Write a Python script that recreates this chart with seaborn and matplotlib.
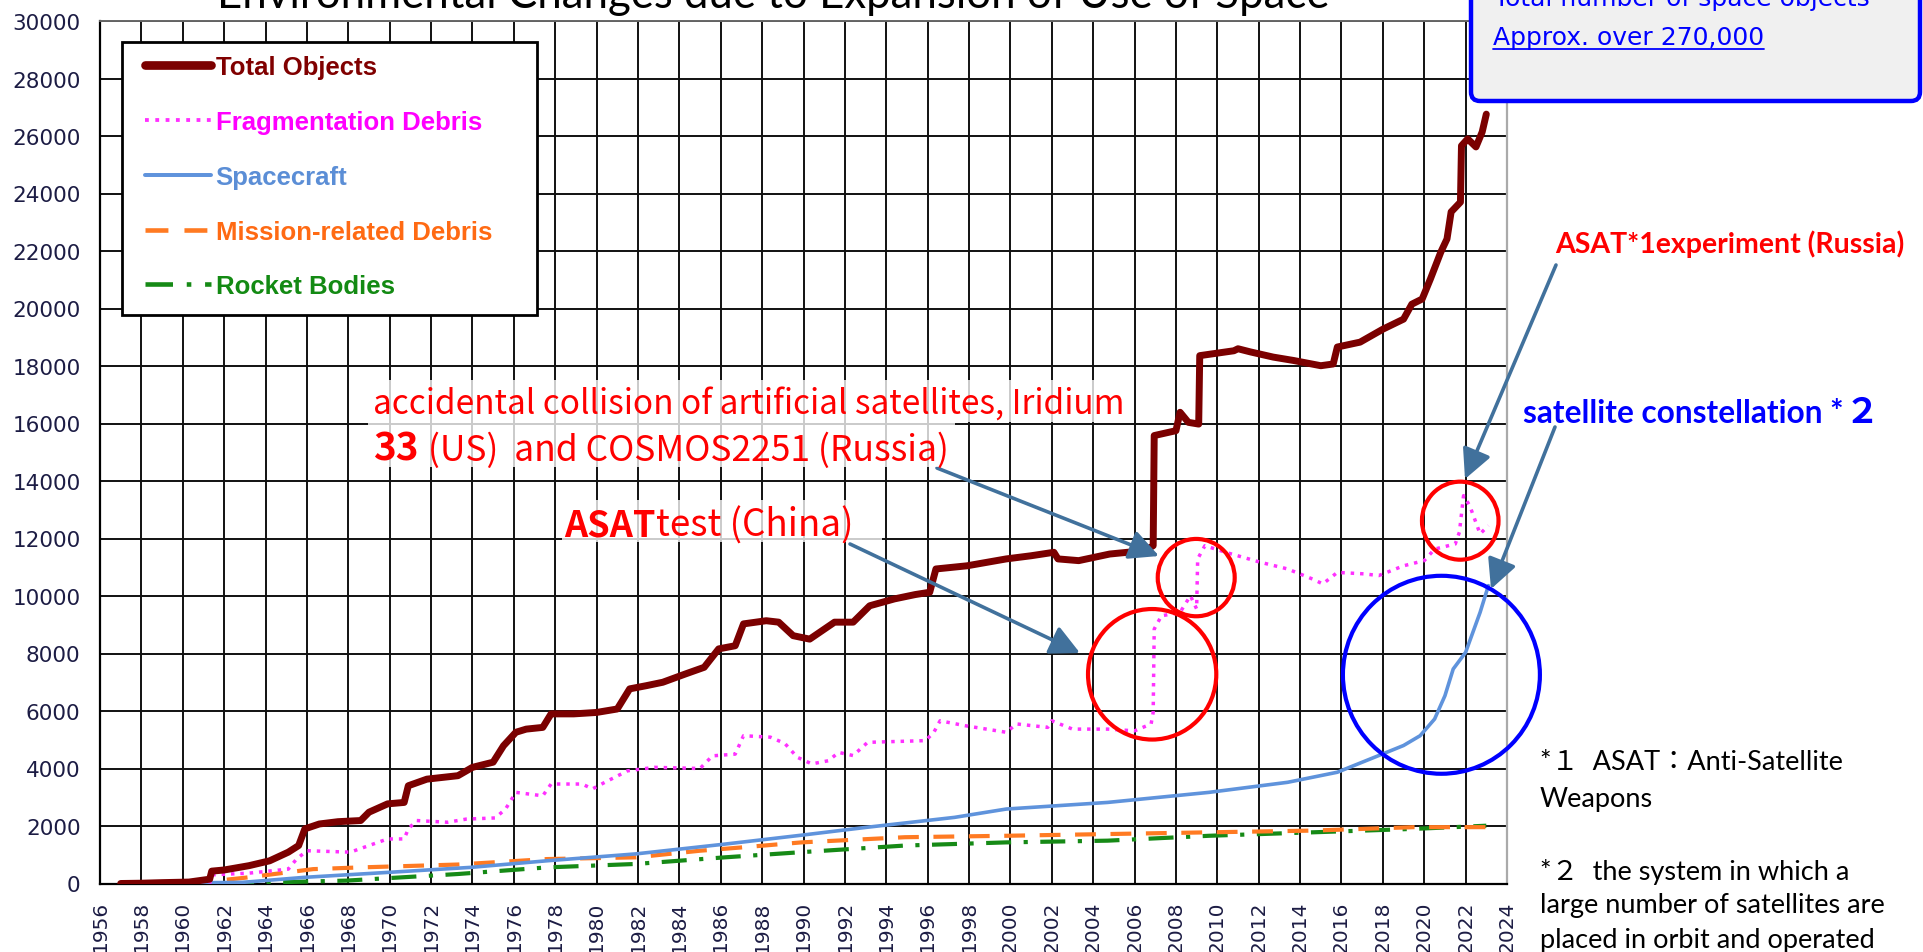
import numpy as np
import pandas as pd
import matplotlib
matplotlib.use("Agg")
import matplotlib.pyplot as plt
import seaborn as sns
from matplotlib.patches import Ellipse, Rectangle, FancyBboxPatch
from matplotlib.lines import Line2D
from matplotlib.transforms import IdentityTransform

# ---------------- data ----------------
total_years = [1957.0, 1958.0, 1959.0, 1960.3, 1961.3, 1961.4, 1962.0, 1963.2, 1964.2, 1965.1,
               1965.6, 1965.9, 1966.6, 1967.5, 1968.6, 1969.0, 1969.9, 1970.7, 1970.9, 1971.8,
               1973.3, 1974.0, 1975.0, 1975.5, 1976.1, 1976.6, 1977.4, 1977.8, 1978.9, 1980.0,
               1981.0, 1981.6, 1982.4, 1983.2, 1984.3, 1985.2, 1985.9, 1986.7, 1987.1, 1988.2,
               1988.8, 1989.5, 1990.3, 1991.5, 1992.4, 1993.2, 1994.4, 1995.4, 1996.1, 1996.4,
               1997.9, 1999.8, 2001.0, 2002.1, 2002.3, 2003.3, 2004.8, 2006.5, 2006.9, 2006.95,
               2008.0, 2008.2, 2008.6, 2009.1, 2009.15, 2010.8, 2011.0, 2011.6, 2012.7, 2013.7,
               2015.0, 2015.6, 2015.8, 2016.9, 2018.0, 2019.0, 2019.4, 2019.9, 2020.3, 2020.8,
               2021.1, 2021.3, 2021.75, 2021.8, 2022.1, 2022.5, 2022.8, 2023.0]
total_vals = [0, 10, 30, 50, 150, 430, 470, 620, 790, 1090,
              1320, 1900, 2070, 2150, 2190, 2480, 2770, 2820, 3400, 3630,
              3750, 4040, 4220, 4790, 5260, 5370, 5430, 5900, 5900, 5950,
              6070, 6770, 6880, 7000, 7290, 7520, 8160, 8270, 9030, 9140,
              9090, 8620, 8500, 9090, 9090, 9660, 9900, 10050, 10130, 10940,
              11050, 11290, 11400, 11520, 11290, 11230, 11460, 11580, 11750, 15580,
              15750, 16390, 16040, 15980, 18360, 18530, 18600, 18490, 18310, 18190,
              18010, 18070, 18660, 18830, 19280, 19630, 20150, 20330, 21030, 21960,
              22420, 23360, 23700, 25660, 25900, 25620, 26140, 26760]

frag_years = [1961.3, 1961.4, 1963.2, 1965.1, 1965.5, 1966.0, 1968.1, 1969.0, 1969.9, 1970.7,
              1970.9, 1971.3, 1972.8, 1973.7, 1975.1, 1975.6, 1976.1, 1977.4, 1977.8, 1979.3,
              1979.8, 1980.4, 1981.5, 1982.8, 1985.0, 1985.6, 1986.7, 1987.1, 1988.4, 1989.1,
              1989.7, 1990.4, 1991.2, 1991.7, 1992.4, 1993.1, 1995.9, 1996.3, 1996.6, 1997.8,
              1999.8, 2000.3, 2001.8, 2002.0, 2003.0, 2004.7, 2006.0, 2006.8, 2006.9, 2006.95,
              2007.3, 2008.2, 2008.7, 2009.0, 2009.05, 2009.4, 2010.4, 2012.1, 2013.4, 2014.6,
              2015.1, 2015.8, 2017.1, 2017.8, 2019.0, 2020.0, 2020.5, 2021.5, 2021.7, 2021.9,
              2022.2, 2022.7, 2023.1]
frag_vals = [0, 300, 360, 500, 850, 1140, 1090, 1320, 1550, 1550,
             1900, 2190, 2130, 2240, 2280, 2590, 3170, 3050, 3460, 3460,
             3290, 3520, 3920, 4040, 4000, 4440, 4500, 5140, 5090, 4870,
             4390, 4160, 4270, 4560, 4450, 4910, 4970, 5260, 5660, 5490,
             5260, 5550, 5430, 5660, 5370, 5370, 5310, 5550, 5950, 8850,
             9310, 9430, 10010, 9550, 11290, 11750, 11520, 11170, 10940, 10590,
             10420, 10820, 10770, 10710, 11050, 11230, 11630, 11810, 12220, 13490,
             13140, 12160, 12450]

craft_years = [1957.0, 1960.0, 1962.9, 1965.9, 1970.0, 1973.9, 1977.6, 1981.9, 1986.2, 1989.9,
               1993.0, 1997.3, 1999.8, 2004.7, 2009.6, 2013.4, 2015.8, 2017.8, 2019.0, 2019.8,
               2020.5, 2021.0, 2021.4, 2022.0, 2022.7, 2023.1]
craft_vals = [0, 20, 40, 215, 390, 560, 790, 1030, 1370, 1680,
              1950, 2300, 2590, 2820, 3170, 3520, 3870, 4450, 4800, 5140,
              5720, 6530, 7460, 8040, 9430, 10360]

mission_years = [1957.0, 1961.0, 1963.0, 1966.3, 1968.6, 1973.3, 1977.6, 1981.9, 1985.0, 1987.1,
                 1989.9, 1994.9, 1999.8, 2004.7, 2009.6, 2014.6, 2019.5, 2023.0]
mission_vals = [0, 50, 200, 500, 560, 660, 850, 910, 1140, 1260,
                1430, 1610, 1660, 1720, 1780, 1840, 1960, 1960]

rocket_years = [1957.0, 1962.0, 1967.9, 1973.3, 1977.6, 1981.9, 1986.2, 1989.9, 1994.9, 1999.8,
                2004.7, 2009.6, 2014.6, 2019.5, 2023.0]
rocket_vals = [0, 0, 100, 330, 560, 680, 910, 1090, 1320, 1430,
               1490, 1660, 1780, 1900, 2010]

series_names = ["Total Objects", "Fragmentation Debris", "Spacecraft",
                "Mission-related Debris", "Rocket Bodies"]
x_ticks = list(range(1956, 2025, 2))
y_ticks = list(range(0, 30001, 2000))

# ---------------- styling ----------------
W, H = 1923, 953
sns.set_theme(style="white")
plt.rcParams["font.family"] = ["Liberation Sans", "DejaVu Sans"]

fig = plt.figure(figsize=(W / 100, H / 100), dpi=100)
ax = fig.add_axes([100 / W, 1 - 884.5 / H, (1507 - 100) / W, (884.5 - 22) / H])

colors = {"Total Objects": "#7b0000", "Fragmentation Debris": "#ff30ff",
          "Spacecraft": "#5f93dc", "Mission-related Debris": "#ff7a22",
          "Rocket Bodies": "#168a16"}
text_colors = {"Total Objects": "#800000", "Fragmentation Debris": "#ff00ff",
               "Spacecraft": "#5b8ed6", "Mission-related Debris": "#ff6a13",
               "Rocket Bodies": "#138a13"}
styles = {"Total Objects": dict(lw=5.0, ls="-", solid_capstyle="round", solid_joinstyle="round"),
          "Fragmentation Debris": dict(lw=2.5, ls=(0, (1, 1.7))),
          "Spacecraft": dict(lw=2.6, ls="-"),
          "Mission-related Debris": dict(lw=3.0, ls=(0, (5, 3.5))),
          "Rocket Bodies": dict(lw=3.0, ls=(0, (6, 3, 1, 3)))}

data = {"Total Objects": (total_years, total_vals),
        "Fragmentation Debris": (frag_years, frag_vals),
        "Spacecraft": (craft_years, craft_vals),
        "Mission-related Debris": (mission_years, mission_vals),
        "Rocket Bodies": (rocket_years, rocket_vals)}

for i, name in enumerate(reversed(series_names)):
    yrs, vals = data[name]
    df = pd.DataFrame({"year": yrs, "count": vals})
    st = styles[name]
    sns.lineplot(data=df, x="year", y="count", ax=ax, color=colors[name],
                 linewidth=st["lw"], linestyle=st["ls"], estimator=None, sort=False,
                 legend=False, zorder=3 + i,
                 **{k: v for k, v in st.items() if k not in ("lw", "ls")})

tick_font = "DejaVu Sans"
ax.set_xlim(1956, 2024)
ax.set_ylim(0, 30000)
ax.set_xlabel("")
ax.set_ylabel("")
ax.set_xticks(x_ticks)
ax.set_xticklabels([str(v) for v in x_ticks], rotation=90, fontsize=14.5,
                   family=tick_font, color="#1c1c44")
ax.set_xticks(list(range(1957, 2024, 2)), minor=True)
ax.set_yticks(y_ticks)
ax.set_yticklabels([str(v) for v in y_ticks], fontsize=15.5, family=tick_font,
                   color="#1c1c44")
ax.set_yticks(list(range(500, 30000, 500)), minor=True)
ax.tick_params(axis="both", which="major", direction="out", length=8, width=1.4, color="black")
ax.tick_params(axis="x", which="major", pad=4)
ax.tick_params(axis="y", which="major", pad=6)
ax.tick_params(axis="x", which="minor", direction="out", length=7, width=1.3, color="black")
ax.tick_params(axis="y", which="minor", direction="inout", length=8, width=1.2, color="black")
ax.grid(True, which="major", color="#111111", lw=1.4)
ax.set_axisbelow(True)
for s in ["left", "bottom"]:
    ax.spines[s].set_color("black")
    ax.spines[s].set_linewidth(1.6)
ax.spines["top"].set_color("#666666")
ax.spines["top"].set_linewidth(1.4)
ax.spines["right"].set_color("#aaaaaa")
ax.spines["right"].set_linewidth(1.6)

# ---------------- legend (own frame, wider like the reference) ----------------
leg_frame = Rectangle((122, H - 316), 537 - 122, 316 - 43, transform=IdentityTransform(),
                      facecolor="white", edgecolor="black", lw=2.0, zorder=19,
                      clip_on=False)
ax.add_patch(leg_frame)
handles = []
for name in series_names:
    st = styles[name]
    lw = st["lw"] * (1.25 if name == "Total Objects" else 1.1)
    handles.append(Line2D([0], [0], color=colors[name], lw=lw, ls=st["ls"],
                          solid_capstyle="round"))
leg = ax.legend(handles, series_names, loc="upper left",
                bbox_to_anchor=(145 / W, 1 - 56 / H), bbox_transform=fig.transFigure,
                borderaxespad=0, frameon=False, handlelength=2.55, handletextpad=0.2,
                borderpad=0, labelspacing=1.2,
                prop={"family": "Liberation Sans", "weight": "bold", "size": 18.5})
for txt, name in zip(leg.get_texts(), series_names):
    txt.set_color(text_colors[name])
leg.set_zorder(20)

# ---------------- helpers (full-image pixel coordinates, origin top-left) ----------------
def ftext(x, y, s, **kw):
    kw.setdefault("va", "baseline")
    kw.setdefault("ha", "left")
    return fig.text(x / W, 1 - y / H, s, **kw)

def prect(x0, y0, x1, y1, **kw):
    r = Rectangle((x0, H - y1), x1 - x0, y1 - y0, transform=IdentityTransform(), **kw)
    fig.patches.append(r)
    return r

def arrow(x0, y0, x1, y1):
    ax.annotate("", xy=(x1, H - y1), xytext=(x0, H - y0), xycoords="figure pixels",
                textcoords="figure pixels", annotation_clip=False,
                arrowprops=dict(arrowstyle="-|>,head_length=0.9,head_width=0.45",
                                color="#41719c", lw=2.6, shrinkA=0, shrinkB=0,
                                mutation_scale=20), zorder=15)

# title (cut off at top)
ftext(773, 8, "Environmental Changes due to Expansion of Use of Space", ha="center",
      fontsize=31.5, family=["Lato", "DejaVu Sans"], color="black")

# top-right info box
box = FancyBboxPatch((1471, H - 102), 1920 - 1471, 160,
                     boxstyle="round,pad=0,rounding_size=9", transform=IdentityTransform(),
                     facecolor="#f0f0f0", edgecolor="#0000ff", lw=3.2, zorder=5)
fig.patches.append(box)
ftext(1494, 6, "Total number of space objects", fontsize=18, family="DejaVu Sans",
      color="#0000ff", zorder=6)
t_approx = ftext(1493, 45, "Approx. over 270,000", fontsize=18, family="DejaVu Sans",
                 color="#0000ff", zorder=6)

# red annotation text boxes
prect(368, 381, 1128, 423, facecolor="white", alpha=0.78, edgecolor="none", zorder=2)
prect(368, 423, 955, 468, facecolor="white", alpha=0.78, edgecolor="none", zorder=2)
prect(562, 501, 882, 543, facecolor="white", alpha=0.78, edgecolor="none", zorder=2)

red_font = ["Noto Sans CJK JP", "DejaVu Sans"]
ftext(373, 415, "accidental collision of artificial satellites, Iridium", fontsize=24,
      family=red_font, color="#ff0000", zorder=6)
t33 = ftext(373, 461, "33", fontsize=28, family=red_font, weight="bold",
            color="#ff0000", zorder=6)
tasat = ftext(564, 537, "ASAT", fontsize=26, family=red_font, weight="bold",
              color="#ff0000", zorder=6)

ftext(1555, 253, "ASAT*1experiment (Russia)", fontsize=20.5,
      family=["Lato", "Noto Sans CJK JP"], weight="bold", color="#ff0000")
t_sat = ftext(1523, 423, "satellite constellation *", fontsize=22.8,
              family=["Lato", "Noto Sans CJK JP"], weight="bold", color="#0000ff")

note_font = ["Lato", "Noto Sans CJK JP"]
NS = 19.5
ftext(1540, 770, "*１  ASAT：Anti-Satellite", fontsize=NS, family=note_font, color="black")
ftext(1540, 807, "Weapons", fontsize=NS, family=note_font, color="black")
ftext(1540, 880, "*２  the system in which a", fontsize=NS, family=note_font, color="black")
ftext(1540, 913, "large number of satellites are", fontsize=NS, family=note_font, color="black")
ftext(1540, 948, "placed in orbit and operated", fontsize=NS, family=note_font, color="black")

# circles
circles = [((2006.85, 7277), 6.2, 4540, "#ff0000"),
           ((2008.98, 10640), 3.72, 2690, "#ff0000"),
           ((2021.74, 12620), 3.7, 2714, "#ff0000"),
           ((2020.83, 7260), 9.52, 6886, "#0000ff")]
for c, w_, h_, col in circles:
    ax.add_patch(Ellipse(c, w_, h_, fill=False, edgecolor=col, lw=3.0, zorder=12,
                         clip_on=False))

# arrows
arrow(937, 469, 1159, 557)
arrow(850, 545, 1080, 654)
arrow(1556, 266, 1465, 480)
arrow(1555, 428, 1491, 590)

# second pass: continuation pieces and underline
fig.canvas.draw()
r = fig.canvas.get_renderer()
bb = t33.get_window_extent(r)
ftext(bb.x1 + 2, 461, " (US)  and COSMOS2251 (Russia)", fontsize=25.5, family=red_font,
      color="#ff0000", zorder=6)
bb = tasat.get_window_extent(r)
ftext(bb.x1 + 1, 537, "test (China)", fontsize=26.5, family=red_font,
      color="#ff0000", zorder=6)
bb = t_sat.get_window_extent(r)
ftext(bb.x1 + 1, 423, "２", fontsize=25, family=["Noto Sans CJK JP", "DejaVu Sans"],
      weight="bold", color="#0000ff")
bb = t_approx.get_window_extent(r)
fig.lines.append(Line2D([bb.x0, bb.x1], [H - 49.5, H - 49.5], color="#0000ff", lw=1.3,
                        transform=IdentityTransform(), zorder=7))

fig.savefig("out.png", dpi=100)
